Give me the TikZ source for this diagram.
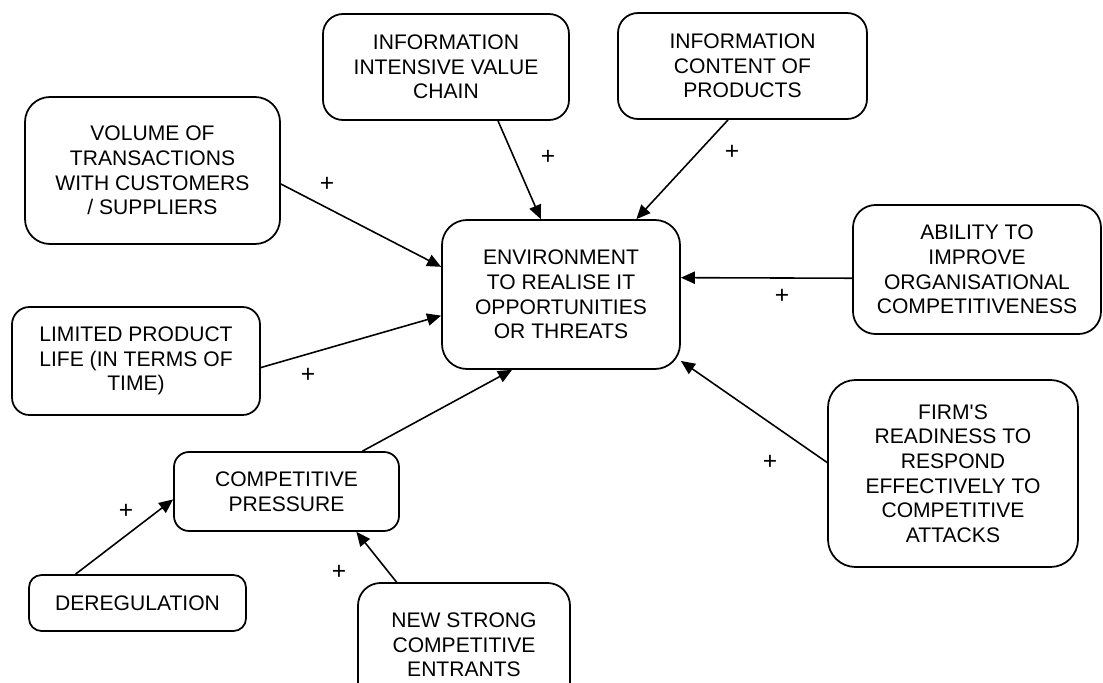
\documentclass[tikz,border=0pt]{standalone}
\usepackage{fontspec}
\setmainfont{Liberation Sans}
\usetikzlibrary{arrows.meta}
\begin{document}
\begin{tikzpicture}[x=0.02cm,y=-0.02cm,
  box/.style={draw=black,line width=1pt,fill=white,align=center,inner sep=0pt,
    font=\fontsize{12pt}{14pt}\selectfont},
  arr/.style={line width=0.9pt,-{Triangle[length=8pt,width=7pt]}},
  plus/.style={inner sep=0pt,font=\fontsize{14pt}{14pt}\selectfont}]
\useasboundingbox (0,0) rectangle (1103,683);
% nodes
\node[box,minimum width=238*0.02cm,minimum height=149*0.02cm,rounded corners=0.5cm] (env) at (561,294.5)
  {ENVIRONMENT\\TO REALISE IT\\OPPORTUNITIES\\OR THREATS};
\node[box,minimum width=246*0.02cm,minimum height=106*0.02cm,rounded corners=0.4cm] (iivc) at (446,67)
  {INFORMATION\\INTENSIVE VALUE\\CHAIN};
\node[box,minimum width=249*0.02cm,minimum height=106*0.02cm,rounded corners=0.4cm] (icp) at (742.5,66)
  {INFORMATION\\CONTENT OF\\PRODUCTS};
\node[box,minimum width=255*0.02cm,minimum height=147*0.02cm,rounded corners=0.5cm] (vol) at (152.5,170.5)
  {VOLUME OF\\TRANSACTIONS\\WITH CUSTOMERS\\/ SUPPLIERS};
\node[box,minimum width=248*0.02cm,minimum height=129*0.02cm,rounded corners=0.45cm] (abil) at (977,269.5)
  {ABILITY TO\\IMPROVE\\ORGANISATIONAL\\COMPETITIVENESS};
\node[box,minimum width=248*0.02cm,minimum height=108*0.02cm,rounded corners=0.35cm] (lim) at (136,361)
  {LIMITED PRODUCT\\LIFE (IN TERMS OF\\TIME)};
\node[box,minimum width=250*0.02cm,minimum height=187*0.02cm,rounded corners=0.55cm] (firm) at (953,473.5)
  {FIRM\textquotesingle S\\READINESS TO\\RESPOND\\EFFECTIVELY TO\\COMPETITIVE\\ATTACKS};
\node[box,minimum width=225*0.02cm,minimum height=79*0.02cm,rounded corners=0.3cm] (cp) at (286.5,491.5)
  {COMPETITIVE\\PRESSURE};
\node[box,minimum width=217*0.02cm,minimum height=56*0.02cm,rounded corners=0.25cm] (dereg) at (137.5,603)
  {DEREGULATION};
\node[box,minimum width=212*0.02cm,minimum height=124*0.02cm,rounded corners=0.45cm] (nsce) at (464,645)
  {NEW STRONG\\COMPETITIVE\\ENTRANTS};
% connectors
\draw[arr] (iivc.-46.1) -- (env.105.7);
\draw[arr] (icp.-105.3) -- (env.45.2);
\draw[arr] (vol.-6.04) -- (env.167.0);
\draw[arr] (abil.-176.5) -- (env.8.37);
\draw[arr] (lim.-3.23) -- (env.-170.2);
\draw[arr] (firm.175.2) -- (env.-29.6);
\draw[arr] (cp.28.9) -- (env.-123.3);
\draw[arr] (dereg.155.2) -- (cp.-176.7);
\draw[arr] (nsce.137.6) -- (cp.-30.0);
% plus labels
\node[plus] (pa) at (548,157) {+};
\node[plus] (pb) at (732,152) {+};
\node[plus] (pc) at (327,184) {+};
\node[plus] (pd) at (782,296) {+};
\node[plus] (pe) at (308,375) {+};
\node[plus] (pf) at (770,462) {+};
\node[plus] (ph) at (126,511) {+};
\node[plus] (pi) at (339,572) {+};
\end{tikzpicture}
\end{document}
